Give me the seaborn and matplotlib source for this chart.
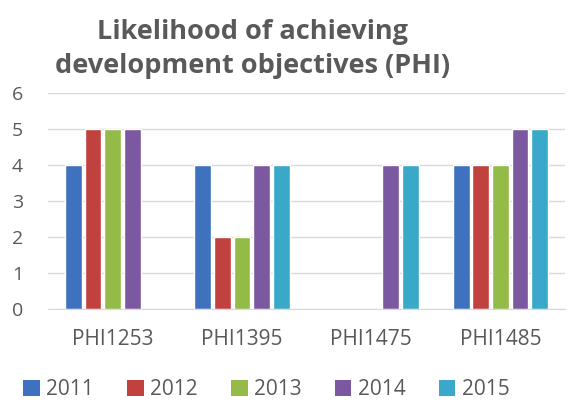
import numpy as np
import pandas as pd
import matplotlib
matplotlib.use("Agg")
import matplotlib.pyplot as plt
import seaborn as sns
from matplotlib.patches import Patch

categories = ["PHI1253", "PHI1395", "PHI1475", "PHI1485"]
years = ["2011", "2012", "2013", "2014", "2015"]
v2011 = [4, 4, np.nan, 4]
v2012 = [5, 2, np.nan, 4]
v2013 = [5, 2, np.nan, 4]
v2014 = [5, 4, 4, 5]
v2015 = [np.nan, 4, 4, 5]
colors = ["#3F72BE", "#C0413D", "#94BA48", "#7B58A0", "#3AA8C8"]

rows = []
for y, vals in zip(years, [v2011, v2012, v2013, v2014, v2015]):
    for c, v in zip(categories, vals):
        rows.append({"cat": c, "year": y, "val": v})
df = pd.DataFrame(rows)

sns.set_style("white")
plt.rcParams["font.family"] = ["Open Sans", "DejaVu Sans"]
txt = "#595959"

fig = plt.figure(figsize=(5.85, 4.03), dpi=100)
ax = fig.add_axes([0.082, 0.233, 0.884, 0.536])
sns.barplot(data=df, x="cat", y="val", hue="year", order=categories, hue_order=years,
            palette=colors, width=0.76, gap=0.15, saturation=1, ax=ax, legend=False)
ax.set_ylim(0, 6)
ax.set_yticks(range(0, 7))
ax.set_xlim(-0.5, 3.5)
ax.grid(axis="y", color="#D9D9D9", linewidth=1)
ax.set_axisbelow(True)
for s in ["top", "right", "left"]:
    ax.spines[s].set_visible(False)
ax.spines["bottom"].set_color("#D9D9D9")
ax.set_xlabel("")
ax.set_ylabel("")
ax.tick_params(axis="both", length=0, colors=txt)
ax.tick_params(axis="x", labelsize=15, pad=14)
ax.tick_params(axis="y", labelsize=14, pad=18)

fig.text(0.432, 0.878, "Likelihood of achieving\ndevelopment objectives (PHI)",
         ha="center", va="center", fontsize=19.5, fontweight="bold", color=txt,
         linespacing=1.38)

handles = [Patch(facecolor=c, edgecolor="none") for c in colors]
fig.legend(handles, years, loc="center", bbox_to_anchor=(0.455, 0.033), ncol=5,
           frameon=False, fontsize=15, labelcolor=txt, handlelength=0.8,
           handleheight=0.8, handletextpad=0.3, columnspacing=1.6)

fig.savefig("out.png", dpi=100)
